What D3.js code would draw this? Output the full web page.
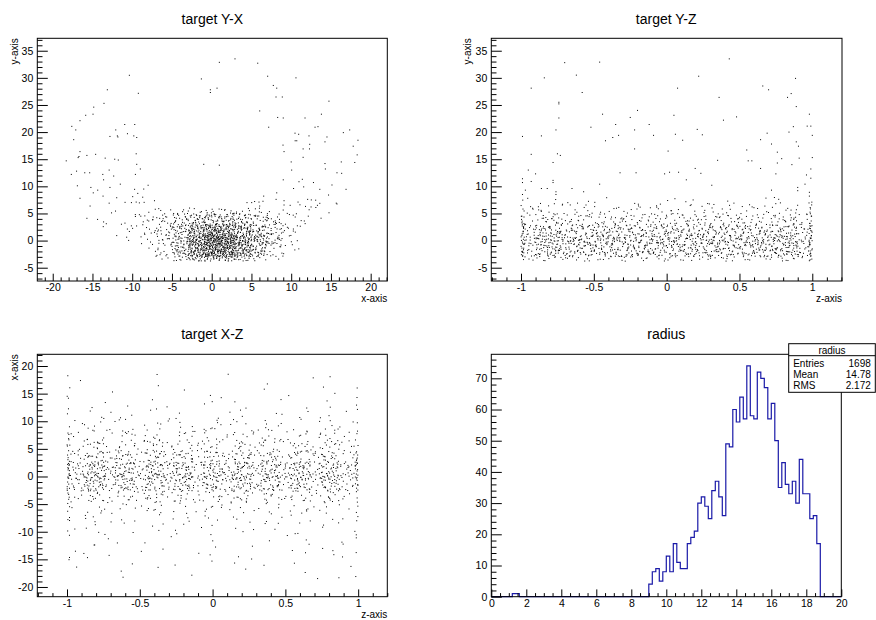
<!DOCTYPE html>
<html>
<head>
<meta charset="utf-8">
<script src="https://cdn.jsdelivr.net/npm/d3@7"></script>
<style>
  body { margin: 0; background: #fff; }
  svg { display: block; font-family: "Liberation Sans", Arial, Helvetica, sans-serif; }
  .tick text { font-size: 10.5px; fill: #000; }
</style>
</head>
<body>
<svg id="c" width="876" height="620"></svg>
<script>
// ---------------- data ----------------

// radius histogram: 100 bins of width 0.2 on [0, 20]
const radiusBinWidth = 0.2;
const radiusCounts = [
  0,0,0,0,0,0,1,1,0,0,
  0,0,0,0,0,0,0,0,0,0,
  0,0,0,0,0,0,0,0,0,0,
  0,0,0,0,0,0,0,0,0,0,
  0,0,0,0,0,4,8,9,5,8,
  13,8,17,11,9,9,17,19,21,30,
  32,29,25,34,37,32,26,49,48,60,
  56,64,57,74,58,57,72,70,67,57,
  62,50,35,43,36,33,37,30,44,33,
  33,25,26,17,0,0,0,0,0,0
];
const radiusMean = "14.78";
const radiusRMS = "2.172";

// Y-X: counts per cell in the dense band (rows bottom to top), x cells of 2
const yxColEdges = [-16,-14,-12,-10,-8,-6,-4,-2,0,2,4,6,8,10,12,14,16,18];
const yxRowEdges = [-3.8,-2,0,2,4,6];
const yxCounts = [
  [0,0,0,0,1,12,32,50,54,42,22,7,0,0,0,0,0],
  [0,0,0,1,5,16,44,110,130,90,55,26,8,0,0,0,0],
  [0,0,2,5,10,22,42,98,112,72,52,34,14,2,0,0,0],
  [1,1,2,6,12,18,30,44,46,40,28,18,10,4,0,0,0],
  [2,2,2,4,6,9,13,18,18,16,11,8,5,3,2,1,0]
];
// Y-X: individual [x, y] points of the ring above the band
const yxRing = [
  [-10.36,30.47],[-13.13,27.8],[-9.23,27.15],[-13.55,25.3],[-14.84,24.6],[-14.93,23.3],[-15.85,23.1],
  [-16.57,22.1],[-17.6,21.06],[-17.1,20.4],[-10.94,21.4],[-9.68,21.4],[-12.07,20.4],[-10.6,19.7],
  [-12.8,19.2],[-11.87,19.3],[-11.8,19.1],[-9.8,19.3],[-9.43,19.0],[-17.36,18.6],[-16.57,16.4],
  [-15.7,15.7],[-14.6,15.9],[-16.8,15.3],[-16.7,15.5],[-18.3,14.7],[-13.4,15.2],[-12.2,15.0],
  [-11.75,14.85],[-9.5,16.0],[-9.43,14.06],
  [0.96,32.86],[2.93,33.5],[-1.3,29.8],[-0.17,27.8],[-0.17,27.3],[0.67,28.1],[-1.0,14.06],[0.96,13.9],
  [5.79,32.7],[7.04,30.3],[10.6,30.0],[7.75,28.6],[8.18,28.1],[8.09,26.47],[8.88,26.47],[14.75,25.7],
  [6.04,23.9],[8.3,22.7],[9.0,22.6],[11.74,22.6],[13.8,23.3],[7.17,20.9],[13.0,20.9],[13.37,21.0],
  [17.36,20.4],[16.56,19.9],[10.48,19.8],[10.94,19.6],[12.24,19.3],[14.5,19.1],[10.5,18.4],[10.7,18.4],
  [14.25,18.2],[18.4,18.5],[8.97,17.6],[12.33,17.75],[17.8,17.4],[11.5,16.9],[12.3,16.9],[9.1,16.4],
  [18.3,15.8],[11.5,15.35],[10.0,14.5],[14.25,14.2],[16.3,14.5],[18.0,14.4],
  [-17.66,12.2],[-17.0,12.8],[-15.97,12.5],[-15.35,12.5],[-13.7,12.2],[-12.9,13.0],[-12.33,11.9],
  [-9.6,12.2],[-8.98,13.2],[-13.6,11.2],[-16.9,10.1],[-15.2,9.8],[-14.34,9.3],[-12.8,9.8],[-11.5,10.4],
  [-9.7,9.45],[-8.55,9.5],[-8.0,10.2],[-14.9,8.8],[-13.67,8.2],[-11.95,7.9],[-9.94,8.1],[-9.3,8.7],
  [-8.68,8.0],[-16.57,7.8],[-12.9,6.9],[-10.9,7.05],[-10.1,7.0],[-9.5,7.1],[-9.1,6.95],[-8.5,7.05],
  [-7.2,7.35],[-15.3,6.37],
  [9.0,11.2],[10.06,13.0],[10.98,10.85],[11.4,11.3],[12.8,10.7],[14.3,13.2],[15.76,12.5],[16.35,12.4],
  [15.13,10.25],[13.6,9.45],[16.9,9.45],[10.3,9.6],[11.57,9.9],[8.18,8.8],[14.7,8.4],[6.54,8.2],
  [5.4,7.2],[5.95,7.1],[6.45,7.25],[9.1,7.35],[8.1,7.6],[10.86,7.1],[12.07,7.6],[12.53,7.5],
  [13.08,7.45],[13.6,6.87],[15.67,6.9],[15.76,6.75],[4.44,7.0],[5.03,7.0],[6.04,6.37],[9.1,6.56],
  [9.87,6.5],[11.1,6.6],[11.8,6.3],[12.5,6.2],[13.1,6.1],[13.3,6.5]
];

// z cells shared by Y-Z and X-Z (thin cells hold the points sitting on z = +-1)
const zEdges = [-1,-0.985,-0.8,-0.6,-0.4,-0.2,0,0.2,0.4,0.6,0.8,0.985,1];

// Y-Z: counts per cell in the band (rows bottom to top)
const yzRowEdges = [-3.8,-2,0,2,4,6,8];
const yzCounts = [
  [4,20,21,20,22,20,21,21,20,22,24,5],
  [6,46,48,46,50,48,48,46,48,46,45,8],
  [6,45,45,46,45,47,46,46,45,46,40,8],
  [5,25,24,26,24,25,26,25,24,26,24,6],
  [4,11,12,11,10,12,11,12,11,12,9,5],
  [3,5,4,4,3,4,5,4,4,3,4,2]
];
// Y-Z: individual [z, y] points above the band
const yzUpper = [
  [-0.70,32.8],[-0.46,32.9],[0.43,33.5],[-0.62,30.5],[-0.84,30.0],[0.22,30.3],[0.885,29.9],[-0.93,28.1],
  [-0.58,27.3],[0.075,28.1],[0.66,28.5],[0.70,27.8],[0.855,27.1],[0.83,26.4],[0.36,26.4],[-0.74,25.5],
  [-0.74,25.2],[0.89,24.7],[-0.20,24.0],[-0.44,23.3],[-0.25,22.7],[0.05,23.1],[0.48,22.8],[0.98,23.3],
  [-0.74,22.6],[0.39,22.2],[-0.12,21.4],[-0.35,21.4],[-0.52,20.9],[0.965,21.1],[0.99,21.1],[0.87,21.0],
  [-0.76,20.4],[-0.22,20.4],[0.21,20.5],[0.84,20.0],[0.69,19.8],[-0.99,19.2],[-0.86,19.3],[-0.42,18.4],
  [-0.37,19.0],[-0.33,19.4],[-0.09,19.4],[0.06,19.6],[0.245,19.5],[1.0,19.4],[0.11,18.5],[0.645,18.6],
  [0.89,18.2],[0.905,17.4],[-0.22,16.9],[0.01,16.5],[0.72,17.8],[0.76,16.3],[-0.75,16.0],[-0.93,15.9],
  [-0.73,15.7],[0.55,16.7],[0.56,14.7],[0.585,14.7],[0.35,14.8],[0.91,15.2],[1.0,15.3],[0.79,15.1],
  [-0.78,14.4],[0.86,14.0],[0.76,14.3],[-0.95,13.0],[0.99,13.2],[-0.90,12.3],[0.645,13.3],[0.196,13.3],
  [-0.32,12.5],[-0.21,12.5],[-0.014,12.3],[0.02,12.6],[0.082,12.6],[0.235,12.4],[0.75,12.3],[0.96,12.1],
  [0.99,11.5],[-0.99,11.4],[-0.99,10.7],[0.135,11.2],[-0.78,11.1],[-0.78,10.7],[-0.46,10.4],[-0.93,10.9],
  [0.31,10.2],[0.95,10.4],[0.90,9.8],[0.90,9.2],[-0.86,9.6],[-0.82,9.6],[-0.76,9.0],[-0.76,8.5],
  [-0.57,9.0],[-0.65,9.6],[0.72,9.3],[-0.99,8.5],[-0.97,9.3],[0.98,8.2],[0.98,8.9]
];

// X-Z: counts per cell (rows of x, bottom to top)
const xzRowEdges = [-18.6,-18,-16,-14,-12,-10,-8,-6,-4,-2,0,2,4,6,8,10,12,14,16,18,18.6];
const xzCounts = [
  [0,0,0,0,0,0,0,0,0,0,1,0],
  [0,1,1,1,1,1,1,1,0,2,1,1],
  [1,1,2,1,1,1,1,2,1,1,2,0],
  [1,2,1,1,1,1,1,2,1,2,2,1],
  [1,2,2,1,2,1,2,1,1,1,1,1],
  [2,3,3,2,3,3,3,3,3,3,3,1],
  [2,4,4,3,4,3,4,3,4,4,3,1],
  [2,6,7,7,7,7,7,7,7,6,5,2],
  [3,15,17,15,16,15,17,16,16,15,12,3],
  [5,34,36,35,36,34,36,35,35,34,29,5],
  [5,37,39,38,39,37,39,38,38,37,32,5],
  [4,24,25,25,26,24,26,25,24,25,18,4],
  [3,13,14,14,14,13,14,14,13,14,11,3],
  [2,8,9,9,9,8,9,9,8,9,8,2],
  [2,6,5,6,6,5,6,5,6,5,5,1],
  [1,3,2,3,2,2,3,2,3,2,2,1],
  [1,2,1,2,1,1,2,1,2,1,2,1],
  [1,1,1,0,1,1,1,1,1,1,1,1],
  [0,1,0,1,0,1,0,1,0,1,1,0],
  [0,1,0,0,0,0,1,0,0,0,1,0]
];

// ---------------- helpers ----------------
const svg = d3.select("#c");

// Halton radical inverse, used to lay each cell's count out evenly over the cell
function halton(i, b) {
  let f = 1, r = 0;
  while (i > 0) { f /= b; r += f * (i % b); i = Math.floor(i / b); }
  return r;
}
function cellsToPoints(colEdges, rowEdges, counts, spread) {
  const pts = [];
  let g = 1;
  const X0 = colEdges[0], X1 = colEdges[colEdges.length - 1];
  const Y0 = rowEdges[0], Y1 = rowEdges[rowEdges.length - 1];
  counts.forEach((row, j) => row.forEach((n, i) => {
    const lo = colEdges[i], hi = colEdges[i + 1];
    const blo = rowEdges[j], bhi = rowEdges[j + 1];
    const wx = (hi - lo) * spread, wy = (bhi - blo) * spread;
    const a = Math.max(X0, lo - wx), b = Math.min(X1, hi + wx);
    const c = Math.max(Y0, blo - wy), d = Math.min(Y1, bhi + wy);
    for (let k = 0; k < n; k++, g++) {
      const u = halton(g, 2), v = halton(g, 3);
      pts.push([a + u * (b - a), c + v * (d - c)]);
    }
  }));
  return pts;
}

function steps(lo, hi, step) {
  const out = [];
  for (let k = Math.ceil(lo / step - 1e-9); k * step <= hi + 1e-9; k++) out.push(+(k * step).toFixed(6));
  return out;
}
const fmt = d => (d === 0 ? "0" : String(+d.toFixed(3)));

function drawAxis(g, scale, orient, majorStep, minorStep, majLen, minLen, pad) {
  const [lo, hi] = scale.domain();
  const majors = steps(lo, hi, majorStep);
  const minors = steps(lo, hi, minorStep).filter(v => !majors.some(m => Math.abs(m - v) < 1e-6));
  const mk = orient === "bottom" ? d3.axisBottom : d3.axisLeft;
  const a1 = g.append("g").call(mk(scale).tickValues(minors).tickSize(-minLen).tickFormat(""));
  const a2 = g.append("g").call(mk(scale).tickValues(majors).tickSize(-majLen).tickPadding(pad).tickFormat(fmt));
  [a1, a2].forEach(a => {
    a.select(".domain").remove();
    a.attr("font-family", null).attr("font-size", null);
    a.selectAll("line").attr("stroke", "#000").attr("stroke-width", 1);
  });
}

function panel(p) {
  const x = d3.scaleLinear().domain(p.xDom).range([p.l, p.r]);
  const y = d3.scaleLinear().domain(p.yDom).range([p.b, p.t]);
  const g = svg.append("g");
  g.append("rect").attr("x", p.l).attr("y", p.t).attr("width", p.r - p.l).attr("height", p.b - p.t)
    .attr("fill", "#fff");
  return { g, x, y };
}

function frameAndAxes(P, p) {
  const { g, x, y } = P;
  g.append("rect").attr("x", p.l).attr("y", p.t).attr("width", p.r - p.l).attr("height", p.b - p.t)
    .attr("fill", "none").attr("stroke", "#000").attr("stroke-width", 1);
  drawAxis(g.append("g").attr("transform", `translate(0,${p.b})`), x, "bottom",
    p.xMaj, p.xMin, 7.3, 3.6, 3);
  drawAxis(g.append("g").attr("transform", `translate(${p.l},0)`), y, "left",
    p.yMaj, p.yMin, 10.5, 5.2, 4);
  g.append("text").attr("x", (p.l + p.r) / 2 + p.titleDx).attr("y", p.titleY)
    .attr("text-anchor", "middle").attr("font-size", 14).text(p.title);
  if (p.xTitle) g.append("text").attr("x", p.r).attr("y", p.xTitleY).attr("text-anchor", "end")
    .attr("font-size", 10).text(p.xTitle);
  if (p.yTitle) g.append("text").attr("transform", `translate(${p.yTitleX},${p.t}) rotate(-90)`)
    .attr("text-anchor", "end").attr("font-size", 10).text(p.yTitle);
}

function scatter(P, pts) {
  P.g.append("g").selectAll("rect").data(pts).join("rect")
    .attr("x", d => P.x(d[0]) - 0.5).attr("y", d => P.y(d[1]) - 0.5)
    .attr("width", 1).attr("height", 1).attr("fill", "#000");
}

// ---------------- target Y-X ----------------
const pYX = { l: 37.3, r: 387.3, t: 38.3, b: 281, xDom: [-21.94, 22.09], yDom: [-7.45, 37.29],
  xMaj: 5, xMin: 1, yMaj: 5, yMin: 1, title: "target Y-X", titleY: 23.5, titleDx: 0,
  xTitle: "x-axis", xTitleY: 301.7, yTitle: "y-axis", yTitleX: 17.5 };
const PYX = panel(pYX);
scatter(PYX, cellsToPoints(yxColEdges, yxRowEdges, yxCounts, 0.5).concat(yxRing));
frameAndAxes(PYX, pYX);

// ---------------- target Y-Z ----------------
const pYZ = { l: 491.3, r: 842, t: 38.3, b: 281, xDom: [-1.204, 1.204], yDom: [-7.45, 37.29],
  xMaj: 0.5, xMin: 0.1, yMaj: 5, yMin: 1, title: "target Y-Z", titleY: 23.5, titleDx: -0.5,
  xTitle: "z-axis", xTitleY: 301.7, yTitle: "y-axis", yTitleX: 471 };
const PYZ = panel(pYZ);
scatter(PYZ, cellsToPoints(zEdges, yzRowEdges, yzCounts, 0.5).concat(yzUpper));
frameAndAxes(PYZ, pYZ);

// ---------------- target X-Z ----------------
const pXZ = { l: 37.3, r: 387.3, t: 354.3, b: 596.7, xDom: [-1.204, 1.2], yDom: [-21.76, 22.12],
  xMaj: 0.5, xMin: 0.1, yMaj: 5, yMin: 1, title: "target X-Z", titleY: 339, titleDx: 0,
  xTitle: "z-axis", xTitleY: 617.5, yTitle: "x-axis", yTitleX: 18 };
const PXZ = panel(pXZ);
scatter(PXZ, cellsToPoints(zEdges, xzRowEdges, xzCounts, 0.35));
frameAndAxes(PXZ, pXZ);

// ---------------- radius histogram ----------------
const pR = { l: 491.3, r: 841.3, t: 354.3, b: 596.7, xDom: [0, 20], yDom: [0, 77.7],
  xMaj: 2, xMin: 0.5, yMaj: 10, yMin: 2, title: "radius", titleY: 339, titleDx: 0 };
const PR = panel(pR);
const histPts = radiusCounts.map((c, i) => [i * radiusBinWidth, c]);
histPts.push([radiusCounts.length * radiusBinWidth, 0]);
const histLine = d3.line().x(d => PR.x(d[0])).y(d => PR.y(d[1])).curve(d3.curveStepAfter);
PR.g.append("path").attr("d", histLine(histPts)).attr("fill", "none")
  .attr("stroke", "#1a1aa8").attr("stroke-width", 1.2);
frameAndAxes(PR, pR);

// statistics box
const sb = { x: 788.7, y: 343.7, w: 86.6, h: 48.6 };
const sg = svg.append("g").attr("font-size", 10);
sg.append("rect").attr("x", sb.x).attr("y", sb.y).attr("width", sb.w).attr("height", sb.h)
  .attr("fill", "#fff").attr("stroke", "#000").attr("stroke-width", 1);
sg.append("line").attr("x1", sb.x).attr("x2", sb.x + sb.w).attr("y1", 355.7).attr("y2", 355.7)
  .attr("stroke", "#000").attr("stroke-width", 1);
sg.append("text").attr("x", sb.x + sb.w / 2).attr("y", 354).attr("text-anchor", "middle").text("radius");
const statRows = [
  ["Entries", String(d3.sum(radiusCounts)), 366.5],
  ["Mean", radiusMean, 377.6],
  ["RMS", radiusRMS, 388.8]
];
statRows.forEach(([k, v, yy]) => {
  sg.append("text").attr("x", sb.x + 4.5).attr("y", yy).text(k);
  sg.append("text").attr("x", sb.x + sb.w - 4.5).attr("y", yy).attr("text-anchor", "end").text(v);
});
</script>
</body>
</html>
